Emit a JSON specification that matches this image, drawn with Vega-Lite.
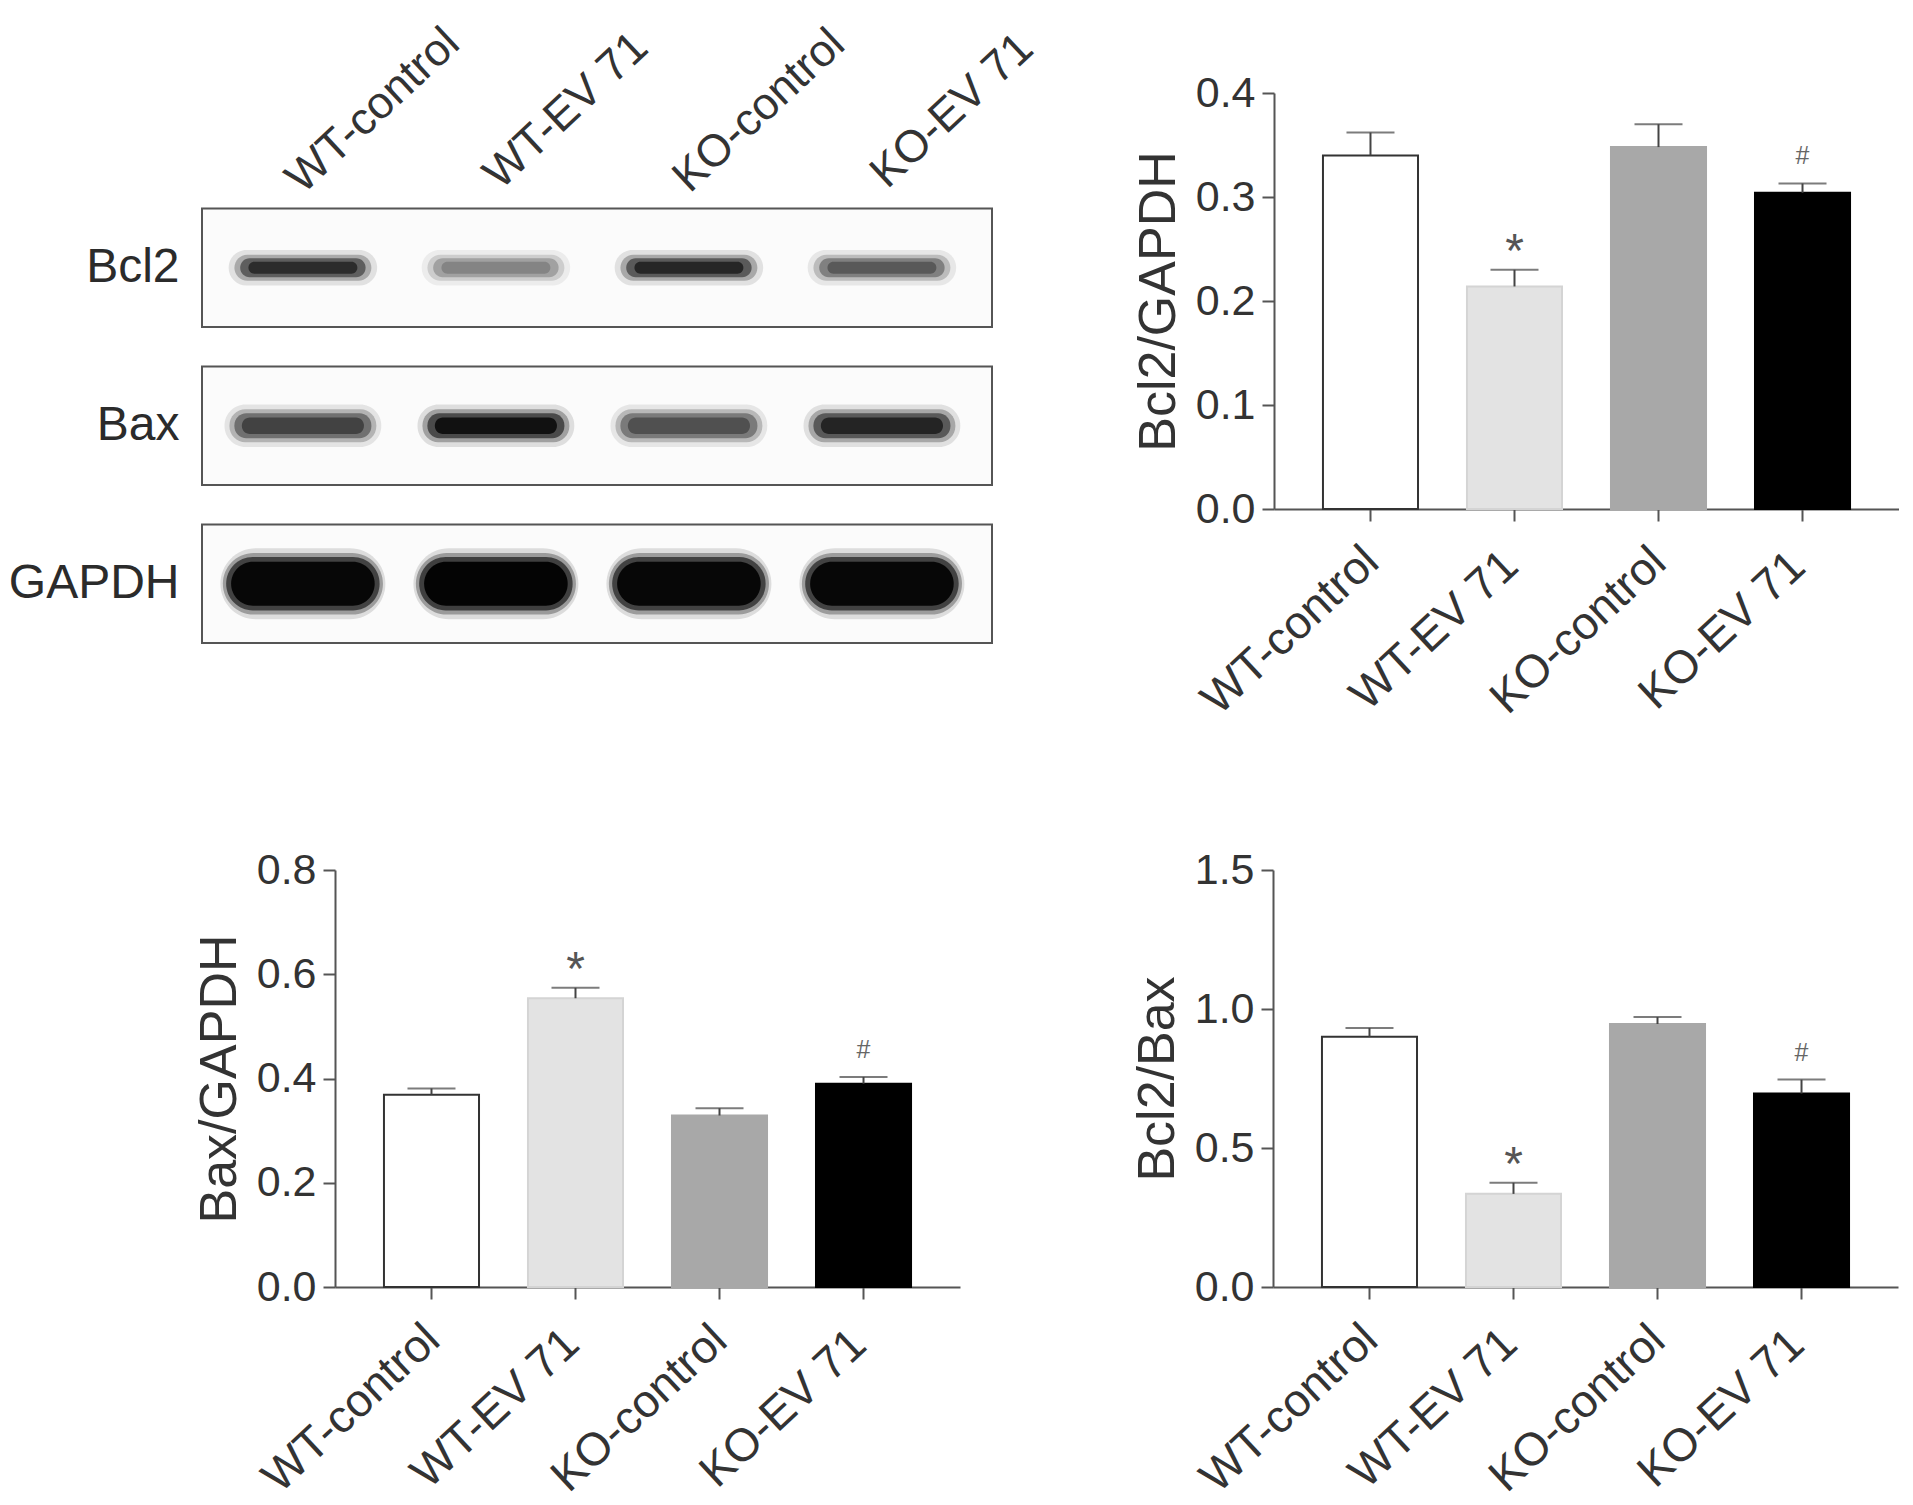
{
  "$schema": "https://vega.github.io/schema/vega-lite/v6.json",
  "background": "white",
  "padding": {"left": 8, "top": 20, "right": 0, "bottom": 0},
  "config": {
    "view": {"stroke": null},
    "font": "Liberation Sans",
    "axis": {"domainColor": "#555555", "domainWidth": 2, "tickColor": "#555555", "tickWidth": 2, "tickSize": 12, "labelColor": "#333333", "titleColor": "#333333", "titleFontWeight": "normal", "grid": false, "labelFont": "Liberation Sans", "titleFont": "Liberation Sans", "labelLimit": 0},
    "axisY": {"labelFontSize": 43, "labelPadding": 7, "titleFontSize": 52, "titlePadding": 10},
    "axisX": {"labelAngle": -43, "labelAlign": "center", "labelBaseline": "middle", "labelOffset": -80, "labelPadding": 109, "labelFontSize": 46, "labelOverlap": false}
  },
  "datasets": {
    "bcl2": [
      {"group": "WT-control", "mean": 0.340, "hi": 0.362, "sig": ""},
      {"group": "WT-EV 71", "mean": 0.214, "hi": 0.230, "sig": "*"},
      {"group": "KO-control", "mean": 0.348, "hi": 0.370, "sig": ""},
      {"group": "KO-EV 71", "mean": 0.304, "hi": 0.313, "sig": "#"}
    ],
    "bax": [
      {"group": "WT-control", "mean": 0.369, "hi": 0.381, "sig": ""},
      {"group": "WT-EV 71", "mean": 0.554, "hi": 0.574, "sig": "*"},
      {"group": "KO-control", "mean": 0.329, "hi": 0.343, "sig": ""},
      {"group": "KO-EV 71", "mean": 0.390, "hi": 0.403, "sig": "#"}
    ],
    "ratio": [
      {"group": "WT-control", "mean": 0.900, "hi": 0.932, "sig": ""},
      {"group": "WT-EV 71", "mean": 0.335, "hi": 0.375, "sig": "*"},
      {"group": "KO-control", "mean": 0.946, "hi": 0.971, "sig": ""},
      {"group": "KO-EV 71", "mean": 0.696, "hi": 0.746, "sig": "#"}
    ],
    "blot": [
      {"lane": "WT-control", "protein": "Bcl2", "intensity": 0.82},
      {"lane": "WT-EV 71", "protein": "Bcl2", "intensity": 0.45},
      {"lane": "KO-control", "protein": "Bcl2", "intensity": 0.85},
      {"lane": "KO-EV 71", "protein": "Bcl2", "intensity": 0.62},
      {"lane": "WT-control", "protein": "Bax", "intensity": 0.72},
      {"lane": "WT-EV 71", "protein": "Bax", "intensity": 0.95},
      {"lane": "KO-control", "protein": "Bax", "intensity": 0.66},
      {"lane": "KO-EV 71", "protein": "Bax", "intensity": 0.86},
      {"lane": "WT-control", "protein": "GAPDH", "intensity": 0.98},
      {"lane": "WT-EV 71", "protein": "GAPDH", "intensity": 0.99},
      {"lane": "KO-control", "protein": "GAPDH", "intensity": 0.98},
      {"lane": "KO-EV 71", "protein": "GAPDH", "intensity": 0.98}
    ],
    "proteins": [{"protein": "Bcl2"}, {"protein": "Bax"}, {"protein": "GAPDH"}],
    "lanes": [{"lane": "WT-control"}, {"lane": "WT-EV 71"}, {"lane": "KO-control"}, {"lane": "KO-EV 71"}]
  },
  "spacing": 126,
  "vconcat": [
    {
      "spacing": 90,
      "hconcat": [
        {
          "width": 790,
          "height": 550,
          "encoding": {
            "y": {"field": "protein", "type": "nominal", "scale": {"domain": ["Bcl2", "Bax", "GAPDH"], "paddingInner": 0.25, "paddingOuter": 0.3655, "align": 1}, "axis": {"title": null, "domain": false, "ticks": false, "tickSize": 0, "labelFontSize": 48, "labelPadding": 23, "labelAngle": 0, "labelColor": "#2b2b2b"}}
          },
          "layer": [
            {"data": {"name": "proteins"}, "mark": {"type": "rect", "fill": "#fbfbfb", "stroke": "#555555", "strokeWidth": 2}},
            {"data": {"name": "blot"}, "transform": [{"filter": "datum.protein == 'Bcl2'"}], "mark": {"type": "rect", "width": {"band": 0.9}, "height": {"band": 0.3}, "cornerRadius": 18, "opacity": 0.12},
             "encoding": {"x": {"field": "lane", "type": "nominal", "sort": null, "scale": {"domain": ["WT-control", "WT-EV 71", "KO-control", "KO-EV 71"], "paddingInner": 0.145, "paddingOuter": 0.119, "align": 0.4}, "axis": null}, "fill": {"field": "intensity", "type": "quantitative", "scale": {"domain": [0, 1], "range": ["#ffffff", "#000000"]}, "legend": null}}},
            {"data": {"name": "blot"}, "transform": [{"filter": "datum.protein == 'Bcl2'"}], "mark": {"type": "rect", "width": {"band": 0.83}, "height": {"band": 0.22}, "cornerRadius": 13, "opacity": 0.3},
             "encoding": {"x": {"field": "lane", "type": "nominal", "sort": null}, "fill": {"field": "intensity", "type": "quantitative", "legend": null}}},
            {"data": {"name": "blot"}, "transform": [{"filter": "datum.protein == 'Bcl2'"}], "mark": {"type": "rect", "width": {"band": 0.76}, "height": {"band": 0.16}, "cornerRadius": 9.5, "opacity": 0.6},
             "encoding": {"x": {"field": "lane", "type": "nominal", "sort": null}, "fill": {"field": "intensity", "type": "quantitative", "legend": null}}},
            {"data": {"name": "blot"}, "transform": [{"filter": "datum.protein == 'Bcl2'"}], "mark": {"type": "rect", "width": {"band": 0.66}, "height": {"band": 0.1}, "cornerRadius": 6},
             "encoding": {"x": {"field": "lane", "type": "nominal", "sort": null}, "fill": {"field": "intensity", "type": "quantitative", "legend": null}}},
            {"data": {"name": "blot"}, "transform": [{"filter": "datum.protein == 'Bax'"}], "mark": {"type": "rect", "width": {"band": 0.95}, "height": {"band": 0.36}, "cornerRadius": 21, "opacity": 0.12},
             "encoding": {"x": {"field": "lane", "type": "nominal", "sort": null}, "fill": {"field": "intensity", "type": "quantitative", "legend": null}}},
            {"data": {"name": "blot"}, "transform": [{"filter": "datum.protein == 'Bax'"}], "mark": {"type": "rect", "width": {"band": 0.89}, "height": {"band": 0.28}, "cornerRadius": 16, "opacity": 0.3},
             "encoding": {"x": {"field": "lane", "type": "nominal", "sort": null}, "fill": {"field": "intensity", "type": "quantitative", "legend": null}}},
            {"data": {"name": "blot"}, "transform": [{"filter": "datum.protein == 'Bax'"}], "mark": {"type": "rect", "width": {"band": 0.83}, "height": {"band": 0.21}, "cornerRadius": 12, "opacity": 0.6},
             "encoding": {"x": {"field": "lane", "type": "nominal", "sort": null}, "fill": {"field": "intensity", "type": "quantitative", "legend": null}}},
            {"data": {"name": "blot"}, "transform": [{"filter": "datum.protein == 'Bax'"}], "mark": {"type": "rect", "width": {"band": 0.74}, "height": {"band": 0.14}, "cornerRadius": 8},
             "encoding": {"x": {"field": "lane", "type": "nominal", "sort": null}, "fill": {"field": "intensity", "type": "quantitative", "legend": null}}},
            {"data": {"name": "blot"}, "transform": [{"filter": "datum.protein == 'GAPDH'"}], "mark": {"type": "rect", "width": {"band": 1.0}, "height": {"band": 0.6}, "cornerRadius": 36, "opacity": 0.12},
             "encoding": {"x": {"field": "lane", "type": "nominal", "sort": null}, "fill": {"field": "intensity", "type": "quantitative", "legend": null}}},
            {"data": {"name": "blot"}, "transform": [{"filter": "datum.protein == 'GAPDH'"}], "mark": {"type": "rect", "width": {"band": 0.97}, "height": {"band": 0.52}, "cornerRadius": 31, "opacity": 0.3},
             "encoding": {"x": {"field": "lane", "type": "nominal", "sort": null}, "fill": {"field": "intensity", "type": "quantitative", "legend": null}}},
            {"data": {"name": "blot"}, "transform": [{"filter": "datum.protein == 'GAPDH'"}], "mark": {"type": "rect", "width": {"band": 0.93}, "height": {"band": 0.45}, "cornerRadius": 27, "opacity": 0.6},
             "encoding": {"x": {"field": "lane", "type": "nominal", "sort": null}, "fill": {"field": "intensity", "type": "quantitative", "legend": null}}},
            {"data": {"name": "blot"}, "transform": [{"filter": "datum.protein == 'GAPDH'"}], "mark": {"type": "rect", "width": {"band": 0.87}, "height": {"band": 0.37}, "cornerRadius": 22},
             "encoding": {"x": {"field": "lane", "type": "nominal", "sort": null}, "fill": {"field": "intensity", "type": "quantitative", "legend": null}}},
            {"data": {"name": "lanes"}, "mark": {"type": "text", "angle": -43, "align": "center", "baseline": "middle", "dx": 118, "dy": -24, "fontSize": 45, "color": "#333333"},
             "encoding": {"x": {"field": "lane", "type": "nominal", "sort": null}, "y": {"datum": "Bcl2", "type": "nominal", "bandPosition": 0}, "text": {"field": "lane"}}}
          ]
        },
        {
          "width": 625,
          "height": 416,
          "data": {"name": "bcl2"},
          "encoding": {
            "x": {"field": "group", "type": "nominal", "sort": null, "scale": {"paddingInner": 0.34, "paddingOuter": 0.34}, "axis": {"title": null}}
          },
          "layer": [
            {"mark": {"type": "bar", "strokeWidth": 2},
             "encoding": {"y": {"field": "mean", "type": "quantitative", "scale": {"domain": [0, 0.4], "nice": false}, "axis": {"title": "Bcl2/GAPDH", "values": [0, 0.1, 0.2, 0.3, 0.4], "format": ".1f"}},
                          "fill": {"field": "group", "type": "nominal", "sort": null, "scale": {"range": ["#ffffff", "#e3e3e3", "#a8a8a8", "#000000"]}, "legend": null},
                          "stroke": {"field": "group", "type": "nominal", "sort": null, "scale": {"range": ["#333333", "#d4d4d4", "#a8a8a8", "#000000"]}, "legend": null}}},
            {"mark": {"type": "rule", "strokeWidth": 2, "color": "#444444"}, "encoding": {"y": {"field": "mean", "type": "quantitative"}, "y2": {"field": "hi"}}},
            {"mark": {"type": "tick", "size": 48, "thickness": 2, "color": "#444444"}, "encoding": {"y": {"field": "hi", "type": "quantitative"}}},
            {"transform": [{"filter": "datum.sig == '*'"}], "mark": {"type": "text", "fontSize": 48, "baseline": "alphabetic", "dy": -3, "color": "#555555"}, "encoding": {"y": {"field": "hi", "type": "quantitative"}, "text": {"field": "sig"}}},
            {"transform": [{"filter": "datum.sig == '#'"}], "mark": {"type": "text", "fontSize": 25, "baseline": "alphabetic", "dy": -19, "color": "#666666"}, "encoding": {"y": {"field": "hi", "type": "quantitative"}, "text": {"field": "sig"}}}
          ]
        }
      ]
    },
    {
      "spacing": 171,
      "hconcat": [
        {
          "spacing": -10,
          "hconcat": [
            {"width": 1, "height": 1, "data": {"values": []}, "mark": "point"},
            {
              "width": 625,
              "height": 417,
              "data": {"name": "bax"},
              "encoding": {
                "x": {"field": "group", "type": "nominal", "sort": null, "scale": {"paddingInner": 0.34, "paddingOuter": 0.34}, "axis": {"title": null}}
              },
              "layer": [
                {"mark": {"type": "bar", "strokeWidth": 2},
                 "encoding": {"y": {"field": "mean", "type": "quantitative", "scale": {"domain": [0, 0.8], "nice": false}, "axis": {"title": "Bax/GAPDH", "values": [0, 0.2, 0.4, 0.6, 0.8], "format": ".1f"}},
                              "fill": {"field": "group", "type": "nominal", "sort": null, "scale": {"range": ["#ffffff", "#e3e3e3", "#a8a8a8", "#000000"]}, "legend": null},
                              "stroke": {"field": "group", "type": "nominal", "sort": null, "scale": {"range": ["#333333", "#d4d4d4", "#a8a8a8", "#000000"]}, "legend": null}}},
                {"mark": {"type": "rule", "strokeWidth": 2, "color": "#444444"}, "encoding": {"y": {"field": "mean", "type": "quantitative"}, "y2": {"field": "hi"}}},
                {"mark": {"type": "tick", "size": 48, "thickness": 2, "color": "#444444"}, "encoding": {"y": {"field": "hi", "type": "quantitative"}}},
                {"transform": [{"filter": "datum.sig == '*'"}], "mark": {"type": "text", "fontSize": 48, "baseline": "alphabetic", "dy": -3, "color": "#555555"}, "encoding": {"y": {"field": "hi", "type": "quantitative"}, "text": {"field": "sig"}}},
                {"transform": [{"filter": "datum.sig == '#'"}], "mark": {"type": "text", "fontSize": 25, "baseline": "alphabetic", "dy": -19, "color": "#666666"}, "encoding": {"y": {"field": "hi", "type": "quantitative"}, "text": {"field": "sig"}}}
              ]
            }
          ]
        },
        {
          "width": 625,
          "height": 417,
          "data": {"name": "ratio"},
          "encoding": {
            "x": {"field": "group", "type": "nominal", "sort": null, "scale": {"paddingInner": 0.34, "paddingOuter": 0.34}, "axis": {"title": null}}
          },
          "layer": [
            {"mark": {"type": "bar", "strokeWidth": 2},
             "encoding": {"y": {"field": "mean", "type": "quantitative", "scale": {"domain": [0, 1.5], "nice": false}, "axis": {"title": "Bcl2/Bax", "values": [0, 0.5, 1.0, 1.5], "format": ".1f"}},
                          "fill": {"field": "group", "type": "nominal", "sort": null, "scale": {"range": ["#ffffff", "#e3e3e3", "#a8a8a8", "#000000"]}, "legend": null},
                          "stroke": {"field": "group", "type": "nominal", "sort": null, "scale": {"range": ["#333333", "#d4d4d4", "#a8a8a8", "#000000"]}, "legend": null}}},
            {"mark": {"type": "rule", "strokeWidth": 2, "color": "#444444"}, "encoding": {"y": {"field": "mean", "type": "quantitative"}, "y2": {"field": "hi"}}},
            {"mark": {"type": "tick", "size": 48, "thickness": 2, "color": "#444444"}, "encoding": {"y": {"field": "hi", "type": "quantitative"}}},
            {"transform": [{"filter": "datum.sig == '*'"}], "mark": {"type": "text", "fontSize": 48, "baseline": "alphabetic", "dy": -3, "color": "#555555"}, "encoding": {"y": {"field": "hi", "type": "quantitative"}, "text": {"field": "sig"}}},
            {"transform": [{"filter": "datum.sig == '#'"}], "mark": {"type": "text", "fontSize": 25, "baseline": "alphabetic", "dy": -19, "color": "#666666"}, "encoding": {"y": {"field": "hi", "type": "quantitative"}, "text": {"field": "sig"}}}
          ]
        }
      ]
    }
  ]
}
